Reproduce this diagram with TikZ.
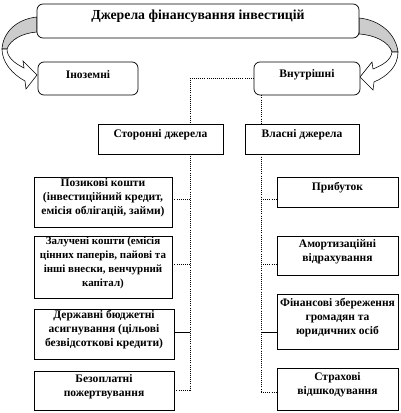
\documentclass[tikz,border=0pt]{standalone}
\usepackage{fontspec}
\setmainfont{Liberation Serif}
\usetikzlibrary{fit,calc,backgrounds}
\begin{document}
\begin{tikzpicture}[x=0.025cm,y=-0.025cm]
\tikzset{
 box/.style={draw=black, line width=0.5pt, fill=white, inner sep=0pt, align=center,
   font=\fontsize{8.2}{10}\selectfont\bfseries},
 rbox/.style={box, rounded corners=0.15cm},
 conn/.style={densely dotted, line width=0.5pt},
 sconn/.style={line width=0.5pt},
 band/.style={draw=black, line width=0.4pt, fill=gray!40},
 arr/.style={draw=black, line width=0.4pt, fill=white},
}
\useasboundingbox (0,0) rectangle (400,413);

% trunk coordinates
\coordinate (lt) at (190,78);
\coordinate (lb) at (190,390);
\coordinate (l1) at (190,199);
\coordinate (l2) at (190,264);
\coordinate (l3) at (190,332);
\coordinate (rt) at (261,95);
\coordinate (r1) at (261,199);
\coordinate (r2) at (261,264);
\coordinate (r3) at (261,332);
\coordinate (r4) at (261,392);

% curved arrows
\draw[band] (37,17) .. controls (17,19) and (3,32) .. (2,49) -- (7,49)
  .. controls (10,40) and (22,33) .. (37,32) -- cycle;
\draw[arr] (2,49) .. controls (2,62) and (12,74) .. (25,81) -- (26,89) -- (37,75)
  -- (23,61) -- (24,68) .. controls (14,63) and (7,57) .. (7,49) -- cycle;
\draw[band] (359,18) .. controls (380,20) and (396,34) .. (398,52) -- (392,52)
  .. controls (389,42) and (375,35) .. (359,34) -- cycle;
\draw[arr] (398,52) .. controls (398,66) and (388,76) .. (374,82) -- (373,90)
  -- (360,77) -- (372,62) -- (373,69) .. controls (383,65) and (391,60) .. (392,52) -- cycle;

% top boxes
\node[rbox, fit={(37,4)(359,38)}, font=\fontsize{9.8}{11}\selectfont\bfseries] (top) {Джерела фінансування інвестицій};
\node[rbox, fit={(38,62)(138,95)}] (in) {Іноземні};
\node[rbox, fit={(254,62)(360,95)}] (vn) {Внутрішні};
\node[box, fit={(98,124)(223,154)}] (st) {Сторонні джерела};
\node[box, fit={(245,124)(359,154)}] (vl) {Власні джерела};

% left column
\node[box, fit={(34,177)(172,227)}] (poz) {Позикові кошти\\(інвестиційний кредит,\\емісія облігацій, займи)};
\node[box, fit={(34,236)(172,298)}, font=\fontsize{7.8}{10}\selectfont\bfseries] (zal) {Залучені кошти (емісія\\цінних паперів, пайові та\\інші внески, венчурний\\капітал)};
\node[box, fit={(34,309)(174,359)}] (der) {Державні бюджетні\\асигнування (цільові\\безвідсоткові кредити)};
\node[box, fit={(34,371)(174,410)}] (bez) {Безоплатні\\пожертвування};

% right column
\node[box, fit={(277,177)(398,207)}] (pri) {Прибуток};
\node[box, fit={(277,236)(398,275)}] (amo) {Амортизаційні\\відрахування};
\node[box, fit={(277,294)(398,349)}] (fin) {Фінансові збереження\\громадян та\\юридичних осіб};
\node[box, fit={(277,368)(398,410)}] (str) {Страхові\\відшкодування};

% connectors behind boxes
\begin{scope}[on background layer]
\draw[conn] (vn.west |- lt) -- (lt) -- (lb);
\draw[conn] (vn.south -| rt) -- (r4);
\draw[conn] (poz.east |- l1) -- (l1);
\draw[conn] (zal.east |- l2) -- (l2);
\draw[sconn] (der.east |- l3) -- (l3);
\draw[conn] (bez.east |- lb) -- (lb);
\draw[conn] (r1) -- (pri.west |- r1);
\draw[conn] (r2) -- (amo.west |- r2);
\draw[sconn] (r3) -- (fin.west |- r3);
\draw[conn] (r4) -- (str.west |- r4);
\end{scope}
\end{tikzpicture}
\end{document}
